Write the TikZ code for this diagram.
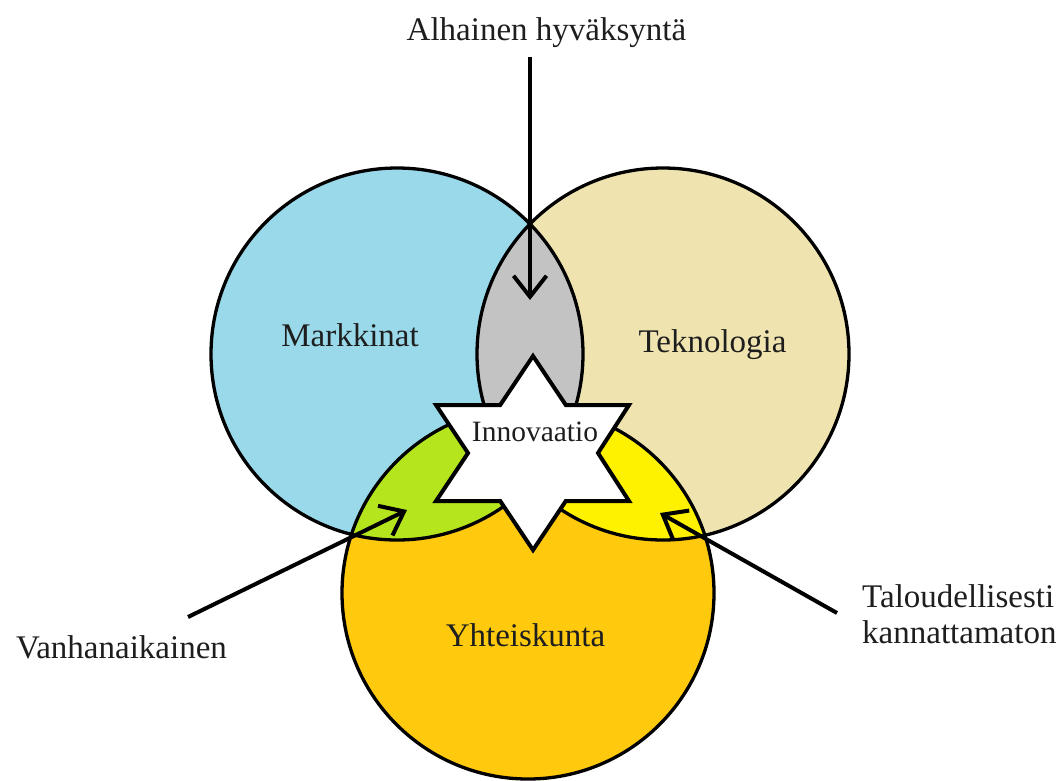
\documentclass[tikz,border=0pt]{standalone}
\usepackage{fontspec}
\setmainfont{Liberation Serif}
\usetikzlibrary{arrows.meta}
\definecolor{cblue}{RGB}{153,217,234}
\definecolor{cbeige}{RGB}{239,228,176}
\definecolor{cgold}{RGB}{255,201,14}
\definecolor{cgray}{RGB}{195,195,195}
\definecolor{clime}{RGB}{181,230,29}
\definecolor{cyel}{RGB}{255,242,0}
\definecolor{ctext}{RGB}{30,30,30}
\begin{document}
\begin{tikzpicture}[x=1pt,y=-1pt,
  circ/.style={line width=3.3pt},
  lbl/.style={font=\fontsize{33}{37}\selectfont, text=ctext, inner sep=0pt},
  small/.style={font=\fontsize{29.5}{34}\selectfont, text=ctext, inner sep=0pt},
  ptr/.style={line width=4pt, -{Straight Barb[length=21pt,width=33pt]}},
  starshape/.style={line width=4pt, fill=white, line join=miter}]
\useasboundingbox[fill=white] (0,0) rectangle (1064,780);
\coordinate (cM) at (397,354);
\coordinate (cT) at (663,354);
\coordinate (cY) at (528,593);
% base fills
\fill[cblue] (cM) circle[radius=186pt];
\fill[cbeige] (cT) circle[radius=186pt];
\fill[cgold] (cY) circle[radius=186pt];
% pairwise intersections
\begin{scope}
  \clip (cM) circle[radius=186pt];
  \fill[cgray] (cT) circle[radius=186pt];
  \fill[clime] (cY) circle[radius=186pt];
\end{scope}
\begin{scope}
  \clip (cT) circle[radius=186pt];
  \fill[cyel] (cY) circle[radius=186pt];
\end{scope}
% outlines
\draw[circ] (cM) circle[radius=186pt];
\draw[circ] (cT) circle[radius=186pt];
\draw[circ] (cY) circle[radius=186pt];
% star
\draw[starshape] (533,356) -- (565.8,405) -- (629,405) -- (598,453) -- (629,501)
  -- (565.8,501) -- (533,550) -- (500.2,501) -- (436,501) -- (468,453)
  -- (436,405) -- (500.2,405) -- cycle;
% labels
\node[lbl, anchor=base] (mark) at (350,346) {Markkinat};
\node[lbl, anchor=base] (tekn) at (712.5,352) {Teknologia};
\node[lbl, anchor=base] (yht) at (525.5,646) {Yhteiskunta};
\node[small, anchor=base] (innov) at (535,441.5) {Innovaatio};
\node[lbl, anchor=base] (alh) at (546.5,40.5) {Alhainen hyväksyntä};
\node[lbl, anchor=base] (vanh) at (121.5,658) {Vanhanaikainen};
\node[lbl, anchor=base west, align=left] (talo) at (862,643) {Taloudellisesti\\[-1pt]kannattamaton};
% arrows
\coordinate (a1s) at (530,57);
\coordinate (a1e) at (530,300);
\coordinate (a2s) at (188,617);
\coordinate (a2e) at (407,510);
\coordinate (a3s) at (837,613);
\coordinate (a3e) at (660,513);
\draw[ptr] (a1s) -- (a1e);
\draw[ptr] (a2s) -- (a2e);
\draw[ptr] (a3s) -- (a3e);
\end{tikzpicture}
\end{document}
